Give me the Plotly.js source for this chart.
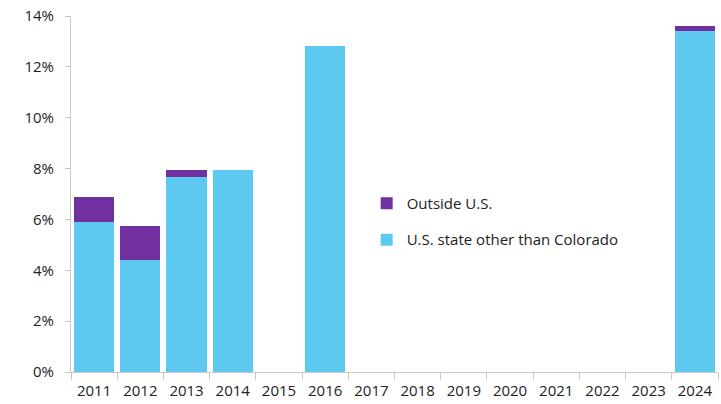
<!DOCTYPE html>
<html>
<head>
<meta charset="utf-8">
<script src="https://cdn.plot.ly/plotly-3.0.1.min.js"></script>
<style>html,body{margin:0;padding:0;background:#fff;}#chart{width:721px;height:404px;}</style>
</head>
<body>
<div id="chart"></div>
<script>
const years = ["2011","2012","2013","2014","2015","2016","2017","2018","2019","2020","2021","2022","2023","2024"];
const usOtherState = [5.9, 4.42, 7.68, 7.94, 0, 12.82, 0, 0, 0, 0, 0, 0, 0, 13.41];
const outsideUS = [1.0, 1.31, 0.26, 0, 0, 0, 0, 0, 0, 0, 0, 0, 0, 0.21];
const yTicks = [0, 2, 4, 6, 8, 10, 12, 14];
const yTickLabels = yTicks.map(v => v + "%");

const traces = [
  {type: "bar", name: "U.S. state other than Colorado", x: years, y: usOtherState, legendgroup: "a", legendrank: 2,
   marker: {color: "#5DC9F1"}, hoverinfo: "skip"},
  {type: "bar", name: "Outside U.S.", x: years, y: outsideUS, legendgroup: "b", legendrank: 1,
   marker: {color: "#7030A0"}, hoverinfo: "skip"}
];

const layout = {
  width: 721, height: 404,
  margin: {l: 71, r: 3, t: 16, b: 32},
  barmode: "stack",
  bargap: 0.13,
  paper_bgcolor: "#fff", plot_bgcolor: "#fff",
  font: {family: "Open Sans, sans-serif", size: 14, color: "#222"},
  showlegend: true,
  legend: {x: 0.457, y: 0.52, xanchor: "left", yanchor: "top", traceorder: "grouped",
           font: {size: 15, color: "#222"}, itemwidth: 30, tracegroupgap: 14, bgcolor: "rgba(0,0,0,0)"},
  xaxis: {type: "category", tickson: "boundaries", ticks: "outside", ticklen: 7, tickcolor: "#c8c8c8",
          showline: true, linecolor: "#c8c8c8", linewidth: 1, showgrid: false, zeroline: false,
          ticklabelstandoff: 5, tickfont: {size: 15, color: "#222"}},
  yaxis: {range: [0, 14], tickmode: "array", tickvals: yTicks, ticktext: yTickLabels, ticks: "outside", ticklen: 5, tickcolor: "#c8c8c8",
          showline: true, linecolor: "#c8c8c8", linewidth: 1, showgrid: false, zeroline: false,
          ticklabelstandoff: 8, tickfont: {size: 15, color: "#222"}}
};

Plotly.newPlot("chart", traces, layout, {displayModeBar: false, staticPlot: true});
</script>
</body>
</html>
